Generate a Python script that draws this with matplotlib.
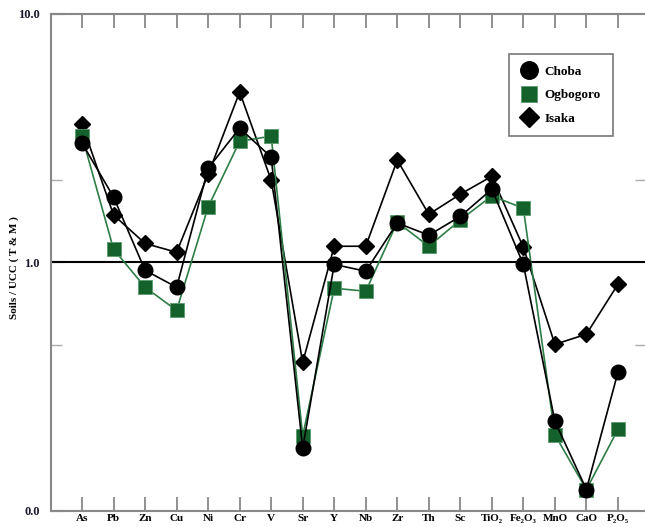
import matplotlib
matplotlib.use("Agg")
import matplotlib.pyplot as plt
from matplotlib.ticker import FixedLocator, FixedFormatter, NullFormatter

categories = ["As", "Pb", "Zn", "Cu", "Ni", "Cr", "V", "Sr", "Y", "Nb", "Zr",
              "Th", "Sc", "TiO₂", "Fe₂O₃", "MnO", "CaO", "P₂O₅"]
choba = [3.02, 1.83, 0.928, 0.793, 2.39, 3.47, 2.65, 0.178, 0.98, 0.92, 1.44,
         1.285, 1.53, 1.97, 0.98, 0.229, 0.1215, 0.360]
ogbogoro = [3.22, 1.128, 0.793, 0.640, 1.67, 3.07, 3.22, 0.200, 0.786, 0.764, 1.45,
            1.16, 1.48, 1.85, 1.65, 0.202, 0.1215, 0.212]
isaka = [3.60, 1.55, 1.19, 1.097, 2.26, 4.85, 2.14, 0.395, 1.16, 1.16, 2.58,
         1.56, 1.88, 2.22, 1.15, 0.467, 0.513, 0.815]
ytick_vals = [0.1, 1.0, 10.0]
ytick_labels = ["0.0", "1.0", "10.0"]
yminor_vals = [10 ** (-1 / 3), 10 ** (1 / 3)]

serif = ["Liberation Serif", "DejaVu Serif"]
plt.rcParams["font.family"] = serif
plt.rcParams["font.weight"] = "bold"

fig = plt.figure(figsize=(6.45, 5.27), dpi=100)
ax = fig.add_axes([51 / 645, 1 - 510.5 / 527, 1 - 51 / 645 + 0.002, (510.5 - 14) / 527])

x = list(range(len(categories)))
green = "#15612b"
ax.plot(x, isaka, color="black", lw=1.2, marker="D", ms=8.5, mfc="black",
        mec="black", zorder=3, label="Isaka")
ax.plot(x, ogbogoro, color="#2e7d46", lw=1.2, marker="s", ms=10, mfc=green,
        mec="#5a9a6c", mew=0.6, zorder=4, label="Ogbogoro")
ax.plot(x, choba, color="black", lw=1.2, marker="o", ms=10.5, mfc="black",
        mec="black", zorder=5, label="Choba")

ax.axhline(1.0, color="black", lw=1.5, zorder=2)

ax.set_yscale("log")
ax.set_ylim(0.1, 10.0)
ax.set_xlim(-0.985, 17.9)

ax.yaxis.set_major_locator(FixedLocator(ytick_vals))
ax.yaxis.set_major_formatter(FixedFormatter(ytick_labels))
ax.yaxis.set_minor_locator(FixedLocator(yminor_vals))
ax.yaxis.set_minor_formatter(NullFormatter())

ax.set_xticks(x)
ax.set_xticklabels(categories)

spine_c = "#888888"
for s in ["left", "bottom", "top"]:
    ax.spines[s].set_color(spine_c)
    ax.spines[s].set_linewidth(1.5)
ax.spines["right"].set_visible(False)

ax.tick_params(axis="x", which="both", direction="in", length=10, width=1.3,
               color=spine_c, top=True, bottom=True, pad=2.5, labelsize=8)
ax.tick_params(axis="y", which="major", direction="in", length=10, width=1.5,
               color="#555555", left=True, right=False, pad=8, labelsize=9,
               labelcolor="#1a1a2e")
ax.tick_params(axis="y", which="minor", direction="in", length=8, width=1.0,
               color="#aaaaaa", left=True, right=True)
for lbl in ax.get_xticklabels() + ax.get_yticklabels():
    lbl.set_fontweight("bold")

ax.set_ylabel("Soils / UCC ( T & M )", fontsize=8, fontweight="bold")
ax.yaxis.set_label_coords(-32 / 594, 0.49)

handles, labels = ax.get_legend_handles_labels()
order = [2, 1, 0]
leg = ax.legend([handles[i] for i in order], [labels[i] for i in order],
                loc="upper right", bbox_to_anchor=((618 - 51) / (645 - 51), (510.5 - 47) / (510.5 - 14)),
                fancybox=False, edgecolor="#777777", framealpha=1,
                prop={"family": serif, "weight": "bold", "size": 9.5},
                handlelength=1.3, handletextpad=0.5, borderpad=0.9, labelspacing=0.85,
                markerscale=1.2)
for lh in leg.get_lines():
    lh.set_linestyle("none")
leg.get_frame().set_linewidth(1.2)

fig.savefig("out.png", dpi=100)
